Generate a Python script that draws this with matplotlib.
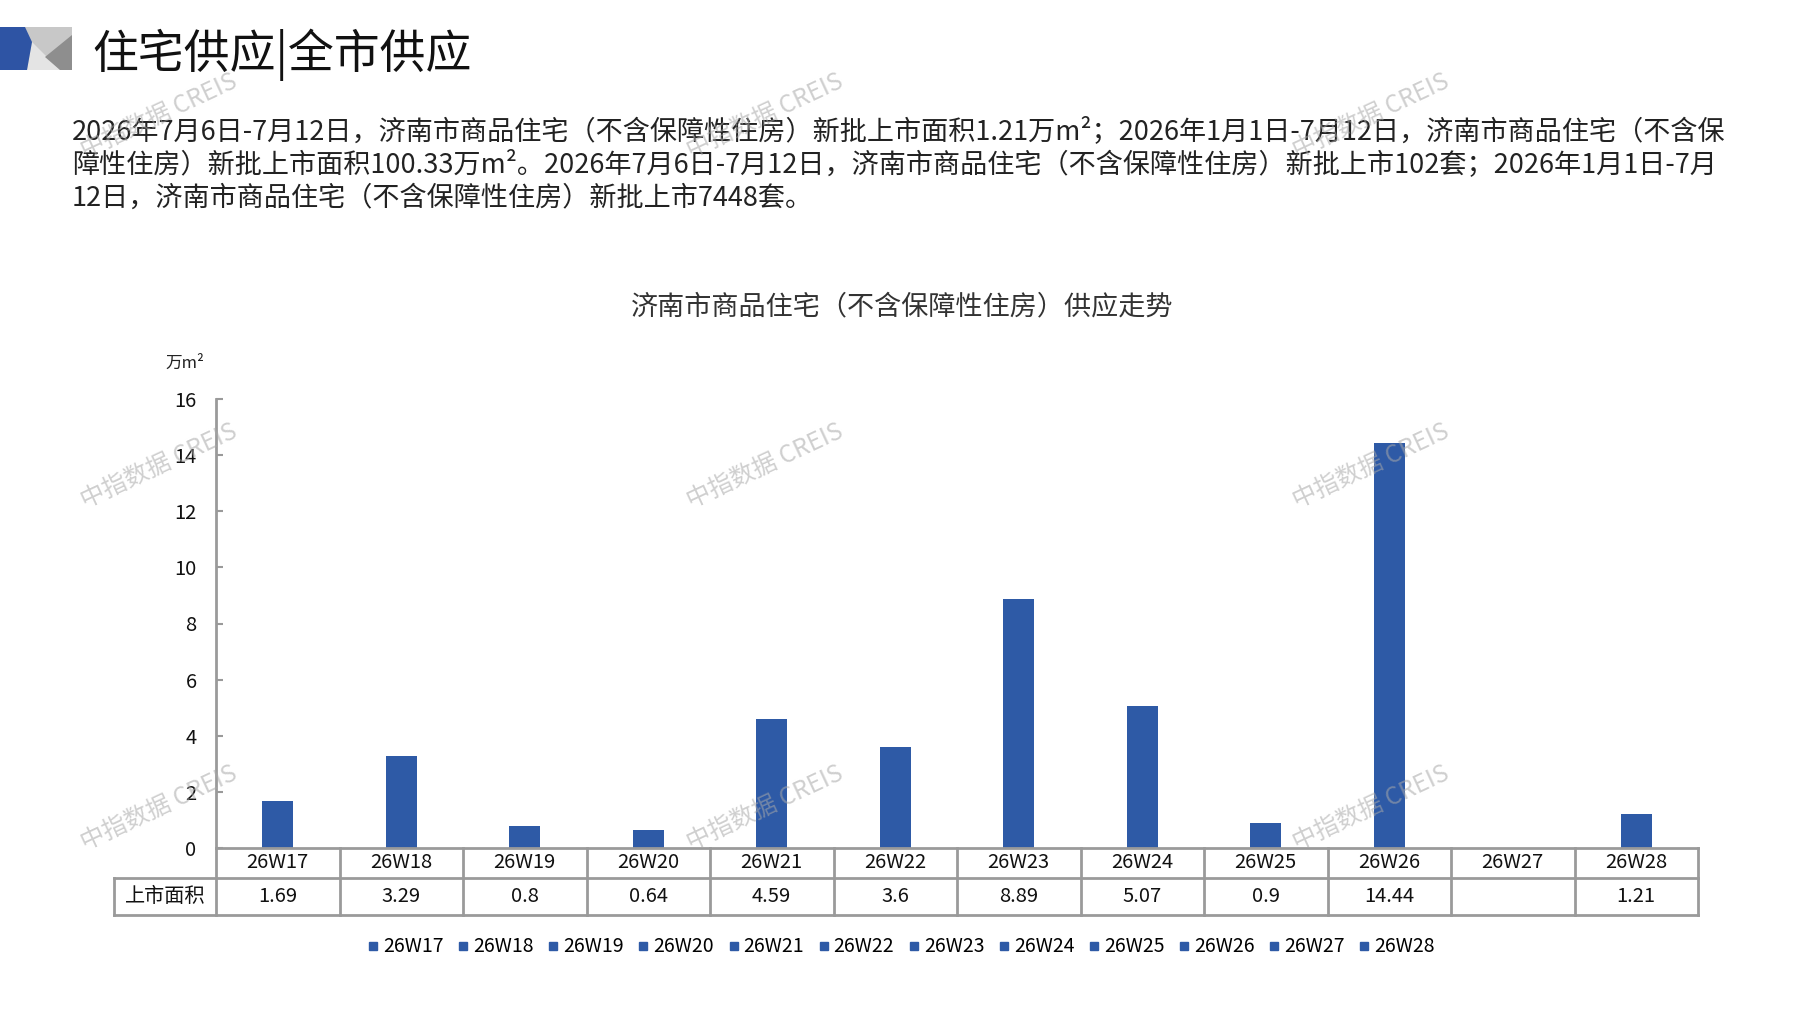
import numpy as np
import matplotlib.pyplot as plt
from matplotlib.patches import Polygon
from matplotlib.lines import Line2D

plt.rcParams['font.family'] = ['Noto Sans CJK SC', 'DejaVu Sans']

# data
weeks = ['26W17', '26W18', '26W19', '26W20', '26W21', '26W22',
         '26W23', '26W24', '26W25', '26W26', '26W27', '26W28']
area = [1.69, 3.29, 0.8, 0.64, 4.59, 3.6, 8.89, 5.07, 0.9, 14.44, np.nan, 1.21]
yticks = [0, 2, 4, 6, 8, 10, 12, 14, 16]

title = '住宅供应|全市供应'
para = [
    '2026年7月6日-7月12日，济南市商品住宅（不含保障性住房）新批上市面积1.21万m²；2026年1月1日-7月12日，济南市商品住宅（不含保',
    '障性住房）新批上市面积100.33万m²。2026年7月6日-7月12日，济南市商品住宅（不含保障性住房）新批上市102套；2026年1月1日-7月',
    '12日，济南市商品住宅（不含保障性住房）新批上市7448套。',
]
chart_title = '济南市商品住宅（不含保障性住房）供应走势'
row_label = '上市面积'
unit = '万m²'

blue = '#2E5AA6'
grid_c = '#9a9a9a'

W, H = 1797, 1010
def fx(x):
    return x / W
def fy(y):
    return 1 - y / H

fig = plt.figure(figsize=(W / 100, H / 100), dpi=100)

# header logo
logo = [
    ([(22, 27), (72, 27), (72, 70), (22, 70)], '#c8c8c8'),
    ([(32, 42), (60, 70), (27, 70)], '#e4e4e4'),
    ([(72, 35), (72, 70), (60, 70), (45, 57)], '#8e8e8e'),
    ([(0, 27), (25, 27), (32, 42), (27, 70), (0, 70)], '#2E54A4'),
]
for pts, c in logo:
    fig.patches.append(Polygon([(fx(a), fy(b)) for a, b in pts], closed=True,
                               facecolor=c, edgecolor='none', transform=fig.transFigure))

fig.text(fx(92), fy(55), title, fontsize=33, va='center', ha='left', color='#111111')
for i, line in enumerate(para):
    fig.text(fx(72), fy(131 + i * 33.5), line, fontsize=19.5, va='center', ha='left', color='#222222')

fig.text(fx(902), fy(307), chart_title, fontsize=19.5, va='center', ha='center', color='#333333')
fig.text(fx(185), fy(363), unit, fontsize=12, va='center', ha='center', color='#222222')

ax_l, ax_r, ax_b, ax_t = 216, 1698, 848, 399
ax = fig.add_axes([fx(ax_l), fy(ax_b), (ax_r - ax_l) / W, (ax_b - ax_t) / H])
x = np.arange(len(weeks))
ax.bar(x, area, width=0.25, color=blue, zorder=2)
ax.set_xlim(-0.5, len(weeks) - 0.5)
ax.set_ylim(0, 16)
ax.set_yticks(yticks)
ax.set_xticks([])
ax.tick_params(axis='y', direction='in', length=5, width=1.5, color=grid_c,
               labelsize=14.5, pad=14, labelcolor='#111111')
for s in ['top', 'right']:
    ax.spines[s].set_visible(False)
for s in ['left', 'bottom']:
    ax.spines[s].set_color(grid_c)
    ax.spines[s].set_linewidth(2)

# data table under the axis
n = len(weeks)
h_ax = ax_b - ax_t
r1 = -30 / h_ax
r2 = -67 / h_ax
xl = -(ax_l - 114) / (ax_r - ax_l)
kw = dict(transform=ax.transAxes, clip_on=False, color=grid_c, lw=2)
ax.plot([xl, 1], [r1, r1], **kw)
ax.plot([xl, 1], [r2, r2], **kw)
ax.plot([xl, xl], [r1, r2], **kw)
for i in range(n + 1):
    ax.plot([i / n, i / n], [0, r2], **kw)
for i, (w, v) in enumerate(zip(weeks, area)):
    cx = (i + 0.5) / n
    ax.text(cx, r1 / 2, w, transform=ax.transAxes, ha='center', va='center',
            fontsize=14.5, color='#111111')
    lab = '' if np.isnan(v) else f'{v:g}'
    ax.text(cx, (r1 + r2) / 2, lab, transform=ax.transAxes, ha='center', va='center',
            fontsize=14.5, color='#111111')
ax.text(xl / 2, (r1 + r2) / 2, row_label, transform=ax.transAxes, ha='center', va='center',
        fontsize=14.5, color='#111111')

handles = [Line2D([], [], marker='s', color=blue, linestyle='none', markersize=6) for w in weeks]
fig.legend(handles, weeks, ncol=n, loc='center', bbox_to_anchor=(fx(901), fy(947)),
           frameon=False, fontsize=14, handlelength=0.6, handletextpad=0.2,
           columnspacing=0.72)

# watermarks
for cy in [116, 466, 808]:
    for cx in [159, 765, 1371]:
        fig.text(fx(cx), fy(cy), '中指数据 CREIS', rotation=25, fontsize=17.5,
                 color='#a8a8a8', alpha=0.55, ha='center', va='center', zorder=10)

fig.savefig('out.png', dpi=100)
